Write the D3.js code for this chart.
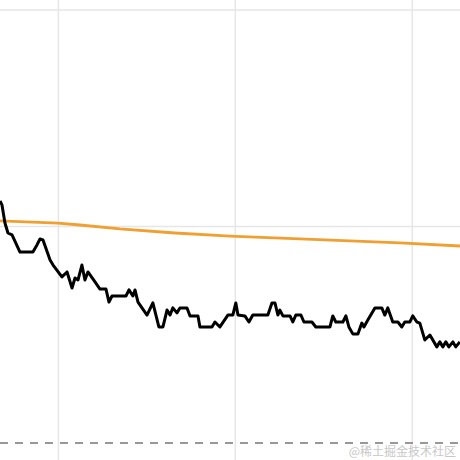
<!DOCTYPE html><html><head><meta charset="utf-8">
<script src="https://cdn.jsdelivr.net/npm/d3@7"></script>
<style>body{margin:0;background:#fff}svg{display:block}</style></head><body>
<script>
const blackX=[67,68.1,69.8,71.5,73.8,78.3,85.6,87.9,89.6,91.3,95.3,97.0,102.0,104.9,107.7,109.4,111.1,113.3,115.0,116.7,120.7,123.5,126.9,128.6,130.3,138.2,139.9,142.1,143.3,145.0,150.1,153.4,156.8,159.1,161.4,163.1,164.7,167.0,168.7,172.7,174.4,178.9,180.0,186.8,188.5,191.3,195.8,198.6,200.3,201.5,205.4,207.7,209.9,218.4,220.7,222.4,224.1,225.2,226.9,230.9,232.5,234.2,237.1,238.8,243.3,245.5,253.5,255.1,256.8,260.8,262.5,264.2,266.4,269.3,271.5,272.7,274.9,278.9,282.8,284.5,286.2,289.0,291.9,294.1,295.8,298.7,300.3,302.6,304.3,307.1,310.0,313.9,315.6,317.3,319.0,320.7,323.0,324.6,326.9];
const blackY=[111.8,110.0,101.6,97.0,96.1,88.2,88.2,91.5,94.2,93.8,84.5,82.2,76.7,79.0,71.6,76.2,75.3,82.2,75.3,79.0,74.4,71.1,71.1,65.1,67.9,67.9,70.7,67.9,70.7,65.1,59.1,64.7,53.6,53.6,61.4,59.1,62.4,60.1,62.4,62.4,58.7,58.7,53.6,53.6,55.9,53.6,59.1,59.1,64.7,59.1,58.7,55.9,59.1,59.1,64.7,64.7,59.1,61.4,58.7,58.7,55.9,59.1,59.1,55.9,55.9,53.6,53.6,58.7,55.9,55.9,58.7,53.6,50.4,50.4,55.4,53.6,56.8,62.4,62.4,59.1,62.4,55.9,55.9,53.6,55.9,55.9,58.7,55.9,55.4,47.6,49.9,44.4,46.7,44.4,46.7,44.4,46.7,44.4,46.7];
const orangeX=[67,99.8,112.2,134.8,165.9,197,250.6,293,327];
const orangeY=[102.6,101.6,100.7,98.9,97.0,95.6,93.8,92.4,91.0];
const xTicks=[100,200,300];
const yTicks=[100,200];
const watermark="@稀土掘金技术社区";

const W=460,H=460;
const svg=d3.select("body").append("svg").attr("width",W).attr("height",H);
const x=d3.scaleLinear().domain([67,327]).range([0,W]);
const y=d3.scaleLinear().domain([0,200]).range([443,10]);
svg.append("g").selectAll("line").data(xTicks).join("line")
 .attr("x1",d=>x(d)).attr("x2",d=>x(d)).attr("y1",0).attr("y2",H)
 .attr("stroke","#e6e6e6").attr("stroke-width",1.5);
svg.append("g").selectAll("line").data(yTicks).join("line")
 .attr("x1",0).attr("x2",W).attr("y1",d=>y(d)).attr("y2",d=>y(d))
 .attr("stroke","#e6e6e6").attr("stroke-width",1.5);
svg.append("line").attr("x1",0).attr("x2",W).attr("y1",y(0)).attr("y2",y(0))
 .attr("stroke","#777").attr("stroke-width",1.5).attr("stroke-dasharray","8,7");
const line=d3.line().x(d=>x(d[0])).y(d=>y(d[1]));
svg.append("path").datum(orangeX.map((v,i)=>[v,orangeY[i]])).attr("d",line)
 .attr("fill","none").attr("stroke","#f0a030").attr("stroke-width",2.8);
svg.append("path").datum(blackX.map((v,i)=>[v,blackY[i]])).attr("d",line)
 .attr("fill","none").attr("stroke","#000").attr("stroke-width",3).attr("stroke-linejoin","round");
svg.append("text").attr("x",456).attr("y",456).attr("text-anchor","end")
 .attr("font-family","Noto Sans CJK SC").attr("font-size",12).attr("fill","#c8c8c8").text(watermark);
</script></body></html>
